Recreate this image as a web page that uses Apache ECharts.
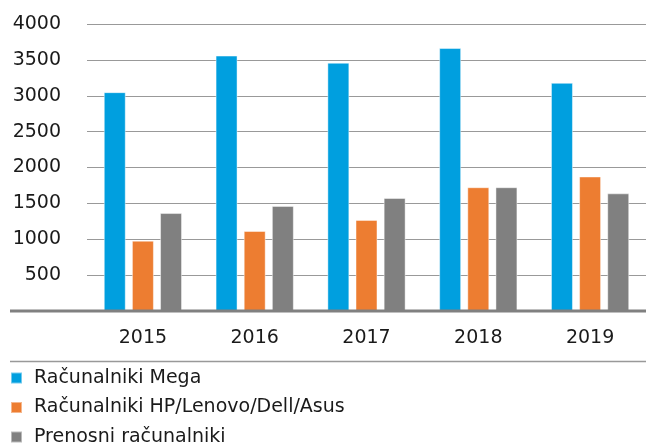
<!DOCTYPE html>
<html>
<head>
<meta charset="utf-8">
<script src="https://cdn.jsdelivr.net/npm/echarts@6/dist/echarts.min.js"></script>
<style>html,body{margin:0;padding:0;background:#fff}#c{width:646px;height:446px}</style>
</head>
<body>
<div id="c"></div>
<script>
const categories = ['2015', '2016', '2017', '2018', '2019'];
const seriesNames = ['Računalniki Mega', 'Računalniki HP/Lenovo/Dell/Asus', 'Prenosni računalniki'];
const mega = [3050, 3560, 3460, 3665, 3180];
const brands = [980, 1115, 1270, 1725, 1875];
const laptops = [1365, 1465, 1575, 1725, 1640];
const yTicks = [0, 500, 1000, 1500, 2000, 2500, 3000, 3500, 4000];

const colors = ['#009FDF', '#ED7D31', '#808080'];
const font = 'DejaVu Sans';

const chart = echarts.init(document.getElementById('c'));
const mk = (name, data, i) => ({
  name, type: 'bar', data,
  barGap: '28%', barCategoryGap: '30%',
  itemStyle: { color: colors[i], borderColor: 'rgba(255,255,255,0.45)', borderWidth: 1 },
  emphasis: { disabled: true }
});
chart.setOption({
  animation: false,
  color: colors,
  textStyle: { fontFamily: font },
  grid: { left: 87, right: -6, top: 24, bottom: 135, containLabel: false },
  xAxis: {
    type: 'category', data: categories,
    axisLine: { show: false }, axisTick: { show: false },
    axisLabel: { fontSize: 19, color: '#1a1a1a', margin: 17, lineHeight: 20, fontFamily: font }
  },
  yAxis: {
    type: 'value', min: yTicks[0], max: yTicks[yTicks.length - 1], interval: 500,
    axisLine: { show: false }, axisTick: { show: false },
    splitLine: { lineStyle: { color: '#999', width: 1.2 } },
    axisLabel: {
      fontSize: 19, color: '#1a1a1a', margin: 26, fontFamily: font,
      formatter: v => (v === 0 ? '' : String(v))
    }
  },
  legend: seriesNames.map((n, i) => ({
    orient: 'horizontal', left: 10, top: 368 + i * 29.5,
    itemWidth: 11, itemHeight: 11,
    icon: 'rect', padding: 0,
    textStyle: { fontSize: 19, color: '#1a1a1a', lineHeight: 20, padding: [0, 0, 0, 7], fontFamily: font },
    data: [n]
  })),
  graphic: [
    { type: 'line', z: 100, shape: { x1: 10, y1: 311, x2: 646, y2: 311 }, style: { stroke: '#808080', lineWidth: 3 } },
    { type: 'line', z: 100, shape: { x1: 10, y1: 361.5, x2: 646, y2: 361.5 }, style: { stroke: '#999', lineWidth: 1.5 } }
  ],
  series: [mk(seriesNames[0], mega, 0), mk(seriesNames[1], brands, 1), mk(seriesNames[2], laptops, 2)]
});
</script>
</body>
</html>
